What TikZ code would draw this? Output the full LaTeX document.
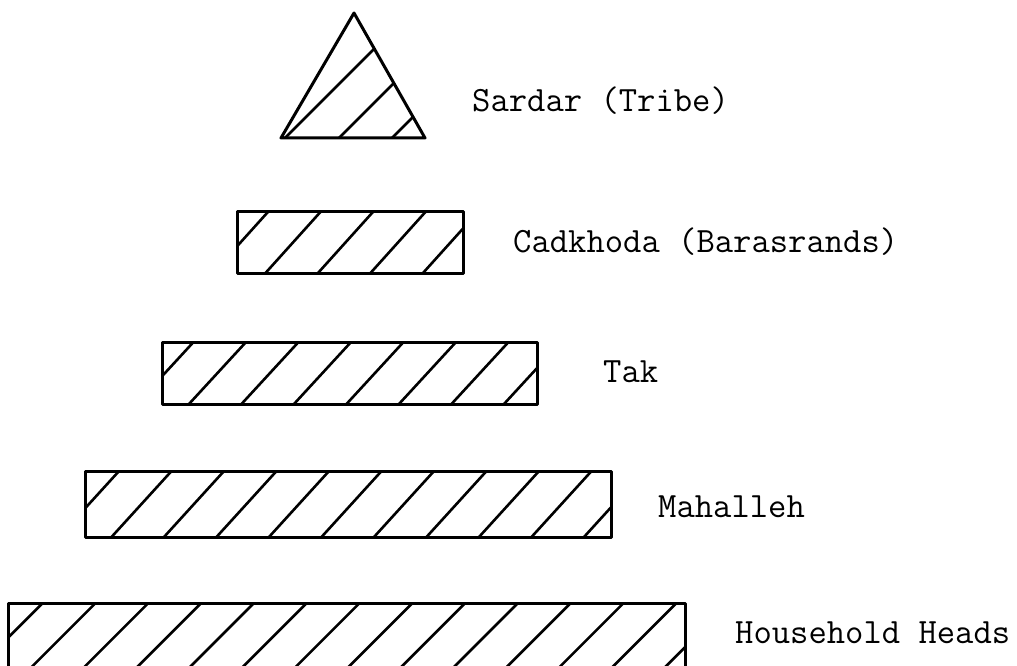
\documentclass[tikz,border=0pt]{standalone}
\usepackage{fontspec}
% #1,#2 = top-left, #3,#4 = bottom-right, #5 = first bottom x, #6 = dx per dy, #7 = spacing
\newcommand\hatchrect[7]{%
  \begin{scope}
    \clip (#1,#2) rectangle (#3,#4);
    \foreach \k in {0,...,16} {\draw[hatch] ({#5+#7*\k},#4) -- ({#5+#7*\k+#6*(#4-#2)},#2);}
  \end{scope}
  \draw[outline] (#1,#2) rectangle (#3,#4);}
\begin{document}
\begin{tikzpicture}[x=1pt,y=-1pt,
  outline/.style={draw=black,line width=3pt,line join=round},
  hatch/.style={draw=black,line width=2.6pt},
  lbl/.style={anchor=base west,inner sep=0pt,font=\ttfamily\fontsize{35.6}{40}\selectfont}]
\useasboundingbox (0,0) rectangle (1017,666);

% Triangle (Sardar)
\coordinate (apex) at (354,13);
\coordinate (bl) at (281,138);
\coordinate (br) at (425,138);
\begin{scope}
  \clip (apex) -- (bl) -- (br) -- cycle;
  \foreach \bx in {285,339,392} {\draw[hatch] (\bx,138) -- (\bx+130,8);}
\end{scope}
\draw[outline] (apex) -- (bl) -- (br) -- cycle;

% Rectangles
\hatchrect{237}{211}{463}{273}{160.5}{0.9}{52.5}
\hatchrect{162}{342}{537}{404}{84}{0.92}{52.5}
\hatchrect{85}{471}{611}{537}{6.5}{0.91}{52.5}
\hatchrect{8}{603}{685}{667}{-74}{1.0}{52.8}

% Labels
\node[lbl] (sardar) at (472,112) {Sardar (Tribe)};
\node[lbl] (cadkhoda) at (513,252) {Cadkhoda (Barasrands)};
\node[lbl] (tak) at (603,382) {Tak};
\node[lbl] (mahalleh) at (658,517) {Mahalleh};
\node[lbl] (household) at (735,643) {Household Heads};
\end{tikzpicture}
\end{document}
